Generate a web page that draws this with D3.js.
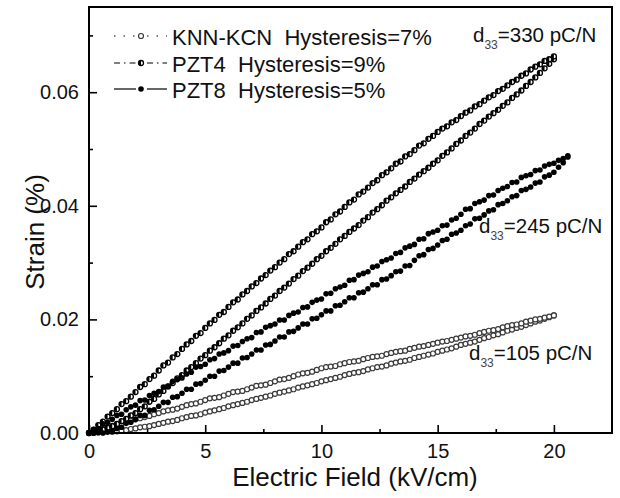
<!DOCTYPE html>
<html><head><meta charset="utf-8">
<script src="https://cdn.jsdelivr.net/npm/d3@7"></script>
<style>body{margin:0;background:#fff}svg{display:block;font-family:"Liberation Sans",Arial,sans-serif}</style>
</head><body><svg id="c" width="620" height="498"></svg>
<script>
// Electric field sampling (kV/cm)
const fieldA=[0,0.2,0.4,0.6,0.8,1,1.2,1.4,1.6,1.8,2,2.2,2.4,2.6,2.8,3,3.2,3.4,3.6,3.8,4,4.2,4.4,4.6,4.8,5,5.2,5.4,5.6,5.8,6,6.2,6.4,6.6,6.8,7,7.2,7.4,7.6,7.8,8,8.2,8.4,8.6,8.8,9,9.2,9.4,9.6,9.8,10,10.2,10.4,10.6,10.8,11,11.2,11.4,11.6,11.8,12,12.2,12.4,12.6,12.8,13,13.2,13.4,13.6,13.8,14,14.2,14.4,14.6,14.8,15,15.2,15.4,15.6,15.8,16,16.2,16.4,16.6,16.8,17,17.2,17.4,17.6,17.8,18,18.2,18.4,18.6,18.8,19,19.2,19.4,19.6,19.8,20];
const fieldB=[0,0.2,0.4,0.6,0.8,1,1.2,1.4,1.6,1.8,2,2.2,2.4,2.6,2.8,3,3.2,3.4,3.6,3.8,4,4.2,4.4,4.6,4.8,5,5.2,5.4,5.6,5.8,6,6.2,6.4,6.6,6.8,7,7.2,7.4,7.6,7.8,8,8.2,8.4,8.6,8.8,9,9.2,9.4,9.6,9.8,10,10.2,10.4,10.6,10.8,11,11.2,11.4,11.6,11.8,12,12.2,12.4,12.6,12.8,13,13.2,13.4,13.6,13.8,14,14.2,14.4,14.6,14.8,15,15.2,15.4,15.6,15.8,16,16.2,16.4,16.6,16.8,17,17.2,17.4,17.6,17.8,18,18.2,18.4,18.6,18.8,19,19.2,19.4,19.6,19.8,20,20.2,20.4,20.6];

// Strain (%) — KNN-KCN
const knnRise=[0.0000,0.0000,0.0001,0.0001,0.0002,0.0002,0.0003,0.0004,0.0005,0.0007,0.0008,0.0010,0.0011,0.0012,0.0014,0.0016,0.0018,0.0020,0.0021,0.0023,0.0026,0.0028,0.0030,0.0031,0.0033,0.0036,0.0038,0.0040,0.0042,0.0044,0.0047,0.0049,0.0051,0.0053,0.0055,0.0058,0.0060,0.0062,0.0064,0.0066,0.0069,0.0071,0.0073,0.0075,0.0077,0.0080,0.0082,0.0084,0.0086,0.0088,0.0091,0.0093,0.0095,0.0097,0.0099,0.0102,0.0104,0.0106,0.0107,0.0109,0.0112,0.0114,0.0116,0.0117,0.0119,0.0122,0.0124,0.0126,0.0127,0.0129,0.0132,0.0134,0.0136,0.0138,0.0140,0.0143,0.0145,0.0147,0.0149,0.0152,0.0155,0.0157,0.0159,0.0161,0.0164,0.0167,0.0169,0.0172,0.0174,0.0177,0.0180,0.0182,0.0185,0.0187,0.0190,0.0193,0.0196,0.0198,0.0201,0.0204,0.0207];
const knnFall=[0.0000,0.0002,0.0005,0.0007,0.0010,0.0012,0.0014,0.0017,0.0019,0.0022,0.0024,0.0026,0.0028,0.0030,0.0033,0.0035,0.0038,0.0040,0.0041,0.0043,0.0046,0.0049,0.0051,0.0052,0.0055,0.0058,0.0061,0.0062,0.0063,0.0066,0.0069,0.0072,0.0073,0.0074,0.0077,0.0080,0.0083,0.0084,0.0085,0.0088,0.0091,0.0094,0.0095,0.0097,0.0100,0.0103,0.0105,0.0106,0.0108,0.0111,0.0114,0.0116,0.0117,0.0118,0.0121,0.0123,0.0125,0.0126,0.0127,0.0130,0.0132,0.0134,0.0135,0.0136,0.0139,0.0141,0.0143,0.0144,0.0145,0.0148,0.0150,0.0152,0.0153,0.0155,0.0157,0.0159,0.0161,0.0162,0.0164,0.0166,0.0168,0.0170,0.0171,0.0173,0.0176,0.0178,0.0180,0.0181,0.0183,0.0186,0.0188,0.0190,0.0191,0.0193,0.0196,0.0198,0.0200,0.0201,0.0203,0.0205,0.0207];
// PZT4
const pzt4Rise=[0.0000,0.0001,0.0003,0.0006,0.0009,0.0012,0.0016,0.0021,0.0025,0.0031,0.0035,0.0042,0.0047,0.0055,0.0060,0.0068,0.0074,0.0082,0.0088,0.0096,0.0102,0.0110,0.0116,0.0123,0.0131,0.0137,0.0145,0.0151,0.0158,0.0166,0.0172,0.0180,0.0186,0.0193,0.0201,0.0207,0.0215,0.0221,0.0228,0.0236,0.0242,0.0250,0.0256,0.0263,0.0271,0.0277,0.0285,0.0291,0.0298,0.0306,0.0312,0.0320,0.0326,0.0333,0.0341,0.0347,0.0354,0.0360,0.0366,0.0374,0.0380,0.0388,0.0394,0.0401,0.0409,0.0415,0.0422,0.0428,0.0434,0.0442,0.0448,0.0455,0.0461,0.0467,0.0474,0.0480,0.0488,0.0494,0.0501,0.0509,0.0515,0.0523,0.0529,0.0536,0.0544,0.0550,0.0557,0.0563,0.0569,0.0576,0.0582,0.0590,0.0596,0.0603,0.0611,0.0618,0.0626,0.0634,0.0642,0.0650,0.0658];
const pzt4Fall=[0.0000,0.0006,0.0014,0.0020,0.0029,0.0035,0.0042,0.0051,0.0056,0.0064,0.0072,0.0081,0.0086,0.0095,0.0101,0.0110,0.0119,0.0124,0.0133,0.0139,0.0148,0.0156,0.0162,0.0171,0.0176,0.0185,0.0193,0.0199,0.0208,0.0213,0.0222,0.0230,0.0235,0.0244,0.0250,0.0258,0.0264,0.0272,0.0278,0.0286,0.0292,0.0300,0.0306,0.0315,0.0320,0.0328,0.0336,0.0341,0.0350,0.0355,0.0362,0.0371,0.0376,0.0385,0.0390,0.0398,0.0406,0.0411,0.0420,0.0425,0.0432,0.0440,0.0445,0.0454,0.0459,0.0466,0.0474,0.0478,0.0487,0.0491,0.0498,0.0506,0.0510,0.0518,0.0523,0.0530,0.0536,0.0540,0.0547,0.0551,0.0558,0.0564,0.0568,0.0575,0.0579,0.0585,0.0591,0.0595,0.0602,0.0606,0.0612,0.0618,0.0622,0.0629,0.0633,0.0640,0.0645,0.0649,0.0655,0.0658,0.0663];
// PZT8
const pzt8Rise=[0.0000,0.0000,0.0001,0.0000,0.0002,0.0003,0.0008,0.0010,0.0017,0.0019,0.0024,0.0031,0.0031,0.0040,0.0041,0.0047,0.0054,0.0054,0.0063,0.0064,0.0070,0.0077,0.0077,0.0086,0.0087,0.0093,0.0100,0.0100,0.0109,0.0110,0.0116,0.0123,0.0123,0.0132,0.0133,0.0139,0.0146,0.0146,0.0155,0.0156,0.0162,0.0169,0.0169,0.0178,0.0179,0.0185,0.0192,0.0192,0.0201,0.0202,0.0208,0.0215,0.0215,0.0224,0.0225,0.0231,0.0238,0.0238,0.0247,0.0248,0.0254,0.0261,0.0261,0.0270,0.0271,0.0277,0.0284,0.0285,0.0294,0.0295,0.0304,0.0312,0.0314,0.0323,0.0325,0.0331,0.0339,0.0341,0.0350,0.0352,0.0357,0.0365,0.0368,0.0377,0.0378,0.0384,0.0391,0.0393,0.0402,0.0404,0.0409,0.0416,0.0418,0.0427,0.0429,0.0433,0.0440,0.0442,0.0451,0.0454,0.0459,0.0468,0.0476,0.0486];
const pzt8Fall=[0.0000,0.0006,0.0008,0.0016,0.0019,0.0024,0.0031,0.0033,0.0041,0.0046,0.0049,0.0057,0.0058,0.0066,0.0070,0.0073,0.0081,0.0082,0.0091,0.0094,0.0097,0.0104,0.0107,0.0116,0.0117,0.0121,0.0129,0.0131,0.0139,0.0141,0.0145,0.0153,0.0154,0.0161,0.0166,0.0168,0.0177,0.0178,0.0186,0.0189,0.0192,0.0199,0.0199,0.0207,0.0211,0.0213,0.0221,0.0222,0.0230,0.0234,0.0236,0.0245,0.0246,0.0254,0.0257,0.0260,0.0269,0.0270,0.0278,0.0281,0.0284,0.0292,0.0294,0.0302,0.0305,0.0308,0.0316,0.0318,0.0326,0.0329,0.0332,0.0341,0.0342,0.0351,0.0354,0.0357,0.0365,0.0366,0.0375,0.0378,0.0385,0.0394,0.0395,0.0404,0.0407,0.0410,0.0418,0.0419,0.0427,0.0431,0.0434,0.0441,0.0442,0.0450,0.0453,0.0455,0.0462,0.0463,0.0470,0.0473,0.0475,0.0480,0.0483,0.0488];

const seriesNames=["KNN-KCN","PZT4","PZT8"];
const hysteresis=["7%","9%","5%"];
const d33Values=["330","245","105"];
const xTicks=[0,5,10,15,20];
const xMinorTicks=[2.5,7.5,12.5,17.5];
const yTicks=[0,0.02,0.04,0.06];
const yMinorTicks=[0.01,0.03,0.05,0.07];

const svg=d3.select("#c");
const x=d3.scaleLinear().domain([0,22.5]).range([89,612]);
const y=d3.scaleLinear().domain([0,0.075]).range([433,7]);

// axes
const gx=svg.append("g").attr("transform","translate(0,433)")
  .call(d3.axisBottom(x).tickValues(xTicks).tickFormat(d3.format("d")).tickSizeInner(-8).tickSizeOuter(0).tickPadding(11));
gx.append("g").call(d3.axisBottom(x).tickValues(xMinorTicks).tickFormat("").tickSizeInner(-4).tickSizeOuter(0));
const gy=svg.append("g").attr("transform","translate(89,0)")
  .call(d3.axisLeft(y).tickValues(yTicks).tickFormat(d3.format(".2f")).tickSizeInner(-8).tickSizeOuter(0).tickPadding(10));
gy.append("g").call(d3.axisLeft(y).tickValues(yMinorTicks).tickFormat("").tickSizeInner(-4).tickSizeOuter(0));
svg.selectAll(".domain").remove();
svg.selectAll(".tick line").attr("stroke","#000").attr("stroke-width",1.6);
svg.selectAll(".tick text").attr("font-size",20).attr("fill","#111").attr("font-family","'Liberation Sans',Arial,sans-serif");

const pts=(f,v)=>f.map((e,i)=>({e:e,s:v[i]}));
const plot=svg.append("g");

function drawMarker(g,kind,cx,cy){
  if(kind===0){
    g.append("circle").attr("cx",cx).attr("cy",cy).attr("r",2.5).attr("fill","#fff").attr("stroke","#3a3a3a").attr("stroke-width",1.2);
  } else if(kind===1){
    g.append("circle").attr("cx",cx).attr("cy",cy).attr("r",2.5).attr("fill","#fff").attr("stroke","#000").attr("stroke-width",1.3);
    g.append("path").attr("d",`M${cx},${cy-2.5}A2.5,2.5 0 0 0 ${cx},${cy+2.5}Z`).attr("fill","#000");
  } else {
    g.append("circle").attr("cx",cx).attr("cy",cy).attr("r",2.8).attr("fill","#000");
  }
}

const table=[
  {kind:0,data:pts(fieldA,knnRise).concat(pts(fieldA,knnFall))},
  {kind:1,data:pts(fieldA,pzt4Rise).concat(pts(fieldA,pzt4Fall))},
  {kind:2,data:pts(fieldB,pzt8Rise).concat(pts(fieldB,pzt8Fall))}
];
table.forEach(t=>{
  const g=plot.append("g");
  t.data.forEach(d=>drawMarker(g,t.kind,x(d.e),y(d.s)));
});

// frame
svg.append("rect").attr("x",89).attr("y",7).attr("width",523).attr("height",426)
  .attr("fill","none").attr("stroke","#000").attr("stroke-width",2);

// legend
const lg=svg.append("g");
const legY=[36,63,89];
const dashes=["1.5,8","6,4,1.5,4",null];
seriesNames.forEach((n,i)=>{
  const yy=legY[i];
  [[114,136],[147,167]].forEach(seg=>{
    const l=lg.append("line").attr("x1",seg[0]).attr("x2",seg[1]).attr("y1",yy).attr("y2",yy)
      .attr("stroke","#000").attr("stroke-width",1.2);
    if(dashes[i]) l.attr("stroke-dasharray",dashes[i]);
  });
  drawMarker(lg,i,141,yy);
  lg.append("text").attr("x",172).attr("y",yy+9).attr("font-size",22).attr("fill","#111")
    .style("white-space","pre").text(n+"  Hysteresis="+hysteresis[i]);
});

// d33 annotations
const annPos=[[473,42],[479,233],[469,360]];
d33Values.forEach((v,i)=>{
  const t=svg.append("text").attr("x",annPos[i][0]).attr("y",annPos[i][1]).attr("font-size",20.5).attr("fill","#111");
  t.append("tspan").text("d");
  t.append("tspan").attr("dy",7).attr("font-size",12).attr("fill","#444").text("33");
  t.append("tspan").attr("dy",-7).text("="+v+" pC/N");
});

// axis titles
svg.append("text").attr("x",355).attr("y",486).attr("text-anchor","middle").attr("font-size",26).attr("fill","#111").text("Electric Field (kV/cm)");
svg.append("text").attr("transform","translate(44,232) rotate(-90)").attr("text-anchor","middle").attr("font-size",26).attr("fill","#111").text("Strain (%)");
</script></body></html>
